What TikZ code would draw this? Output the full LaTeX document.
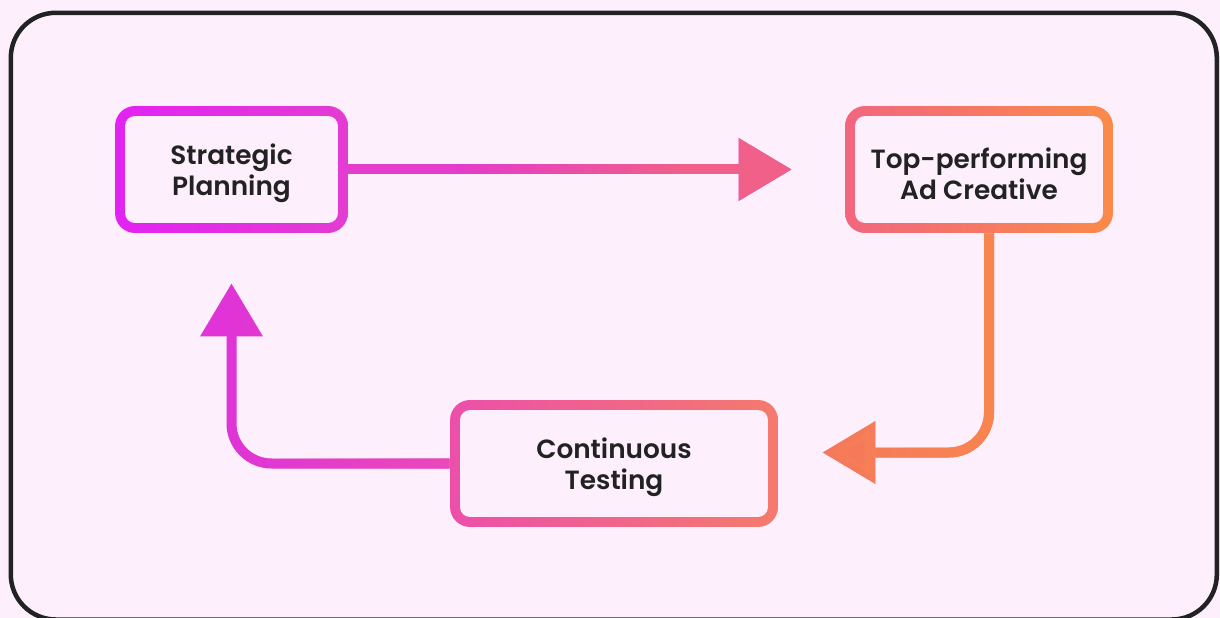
\documentclass[tikz,border=0pt]{standalone}
\usepackage{fontspec}
\setmainfont{Poppins}[BoldFont={Poppins SemiBold}]
\usetikzlibrary{arrows.meta, positioning, fadings}
\definecolor{bgpink}{HTML}{FDF0FC}
\definecolor{framegray}{HTML}{222222}
\definecolor{textdark}{HTML}{222222}
\definecolor{magentaA}{HTML}{E322F3}
\definecolor{magentaB}{HTML}{E33CD2}
\definecolor{pinkA}{HTML}{EC4FAA}
\definecolor{pinkB}{HTML}{F57A6C}
\definecolor{orangeA}{HTML}{F2667E}
\definecolor{orangeB}{HTML}{FA8A4A}
\tikzfading[name=fadetoright, left color=transparent!100, right color=transparent!0]
\newcommand{\capstrut}{\rule{0pt}{16.5pt}}

\tikzset{
  stagebox/.style={rounded corners=0.4cm, minimum height=2.54cm, align=center,
    text=textdark, font=\bfseries\fontsize{15}{17.6}\selectfont,
    path picture={\fill[bgpink, rounded corners=0.2cm]
      ([shift={(0.2cm,0.2cm)}]path picture bounding box.south west) rectangle
      ([shift={(-0.2cm,-0.2cm)}]path picture bounding box.north east);}},
  flowline/.style={line width=0.2cm, rounded corners=0.8cm,
    -{Triangle[length=1.06cm, width=1.2cm]}},
}

\begin{document}
\begin{tikzpicture}[x=0.02cm, y=-0.02cm]
  \useasboundingbox (0,0) rectangle (1220,618);
  \fill[bgpink] (0,0) rectangle (1220,618);

  % Frame
  \draw[framegray, line width=0.09cm, rounded corners=0.9cm] (10.8,12.8) rectangle (1216.8,619.5);

  % Stages
  \node[stagebox, minimum width=4.66cm, left color=magentaA, right color=magentaB] (strategic) at (231.5,169.5) {\capstrut Strategic\\Planning};
  \node[stagebox, minimum width=5.36cm, left color=orangeA, right color=orangeB] (topad) at (979,169.5) {\capstrut Top-performing\\Ad Creative};
  \node[stagebox, minimum width=6.56cm, left color=pinkA, right color=pinkB] (testing) at (614,463.5) {\capstrut Continuous\\Testing};

  % Cycle
  \draw[flowline, color={rgb,255:red,228;green,60;blue,204}, shorten >=1.06cm] (strategic.east) -- (topad.west);
  \draw[flowline, color={rgb,255:red,240;green,96;blue,136}, shorten >=1.06cm, path fading=fadetoright,
    fit fading=false, fading transform={shift={(570,170)}, xscale=2.6}] (strategic.east) -- (topad.west);

  \draw[flowline, color={rgb,255:red,244;green,116;blue,98}, shorten >=0.88cm] ([xshift=0.2cm]topad.south) |- ([yshift=0.22cm]testing.east);
  \draw[flowline, color={rgb,255:red,249;green,133;blue,80}, shorten >=0.88cm, path fading=fadetoright] ([xshift=0.2cm]topad.south) |- ([yshift=0.22cm]testing.east);

  \draw[flowline, color={rgb,255:red,224;green,52;blue,216}, shorten >=1.0cm] (testing.west) -| (strategic.south);
  \draw[flowline, color={rgb,255:red,234;green,74;blue,184}, shorten >=1.0cm, path fading=fadetoright] (testing.west) -| (strategic.south);
\end{tikzpicture}
\end{document}
